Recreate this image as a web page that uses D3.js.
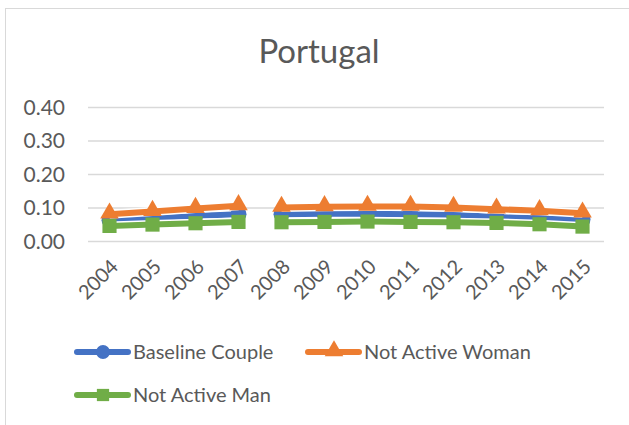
<!DOCTYPE html>
<html>
<head>
<meta charset="utf-8">
<script src="https://cdn.jsdelivr.net/npm/d3@7"></script>
<style>
  html, body { margin: 0; padding: 0; background: #fff; }
  svg { display: block; font-family: Lato, "Open Sans", sans-serif; }
</style>
</head>
<body>
<svg id="chart" width="629" height="425"></svg>
<script>
// Portugal line chart, three household scenarios, 2004-2015.
const years = ["2004", "2005", "2006", "2007", "2008", "2009", "2010", "2011", "2012", "2013", "2014", "2015"];
const baseline = [0.062, 0.068, 0.075, 0.080, 0.080, 0.081, 0.081, 0.080, 0.078, 0.072, 0.067, 0.064];
const notActiveWoman = [0.080, 0.088, 0.097, 0.105, 0.100, 0.102, 0.103, 0.103, 0.100, 0.095, 0.090, 0.083];
const notActiveMan = [0.045, 0.049, 0.053, 0.057, 0.056, 0.057, 0.058, 0.057, 0.056, 0.054, 0.050, 0.043];
const yTicks = [0, 0.1, 0.2, 0.3, 0.4];
// the source line is not joined between these two years
const breakAfter = "2007";

const series = [
  { name: "Baseline Couple", values: baseline, color: "#4472c4", marker: "circle" },
  { name: "Not Active Woman", values: notActiveWoman, color: "#ed7d31", marker: "triangle" },
  { name: "Not Active Man", values: notActiveMan, color: "#70ad47", marker: "square" }
];

const svg = d3.select("#chart");
const M = { left: 88, right: 604, top: 107, bottom: 241 };

// outer chart frame
svg.append("rect")
  .attr("x", 5.5).attr("y", 8.5)
  .attr("width", 640).attr("height", 440)
  .attr("fill", "none").attr("stroke", "#d9d9d9");

svg.append("text")
  .attr("x", 319).attr("y", 63)
  .attr("text-anchor", "middle")
  .attr("font-size", 33)
  .attr("fill", "#595959")
  .text("Portugal");

const x = d3.scaleBand().domain(years).range([M.left, M.right]);
const y = d3.scaleLinear().domain([0, 0.4]).range([M.bottom, M.top]);
const cx = d => x(d) + x.bandwidth() / 2;

// gridlines
svg.append("g")
  .selectAll("line")
  .data(yTicks)
  .join("line")
  .attr("x1", M.left).attr("x2", M.right)
  .attr("y1", d => y(d) + 0.5).attr("y2", d => y(d) + 0.5)
  .attr("stroke", "#d9d9d9").attr("stroke-width", 1.5);

const yAxis = svg.append("g")
  .attr("transform", `translate(${M.left - 23},0)`)
  .call(d3.axisLeft(y).tickValues(yTicks).tickFormat(d3.format(".2f")).tickSize(0));
yAxis.select(".domain").remove();
yAxis.selectAll("text")
  .attr("font-size", 21).attr("fill", "#595959")
  .attr("font-family", "Lato, 'Open Sans', sans-serif")
  .attr("x", 0)
  .attr("dy", "0.35em");

const xAxis = svg.append("g")
  .attr("transform", `translate(0,${M.bottom})`)
  .call(d3.axisBottom(x).tickSize(0));
xAxis.select(".domain").remove();
xAxis.selectAll("text")
  .attr("font-size", 20).attr("fill", "#595959")
  .attr("font-family", "Lato, 'Open Sans', sans-serif")
  .attr("text-anchor", "end")
  .attr("dy", "0.35em")
  .attr("transform", "translate(5,22) rotate(-45)")
  .attr("x", 0).attr("y", 0);

function markerPath(type, size) {
  const sym = { circle: d3.symbolCircle, triangle: d3.symbolTriangle, square: d3.symbolSquare }[type];
  return d3.symbol().type(sym).size(size)();
}

const line = d3.line()
  .x(d => cx(d.year)).y(d => y(d.y));

const breakIdx = years.indexOf(breakAfter);

series.forEach(s => {
  const pts = s.values.map((v, i) => ({ year: years[i], y: v }));
  const parts = [pts.slice(0, breakIdx + 1), pts.slice(breakIdx + 1)];
  const g = svg.append("g");
  parts.forEach(p => {
    g.append("path")
      .attr("d", line(p))
      .attr("fill", "none")
      .attr("stroke", "#fff").attr("stroke-width", 9)
      .attr("stroke-linejoin", "round");
    g.append("path")
      .attr("d", line(p))
      .attr("fill", "none")
      .attr("stroke", s.color).attr("stroke-width", 6)
      .attr("stroke-linejoin", "round");
  });
  g.selectAll("path.mk")
    .data(pts)
    .join("path")
    .attr("class", "mk")
    .attr("transform", d => `translate(${cx(d.year)},${y(d.y) + (s.marker === "triangle" ? -1 : 0)})`)
    .attr("d", markerPath(s.marker, s.marker === "triangle" ? 150 : 200))
    .attr("fill", s.color);
});

// legend
const legendPos = [
  { x: 77, y: 352 },
  { x: 308, y: 352 },
  { x: 77, y: 395 }
];
series.forEach((s, i) => {
  const p = legendPos[i];
  const g = svg.append("g").attr("transform", `translate(${p.x},${p.y})`);
  g.append("line")
    .attr("x1", 0).attr("x2", 51)
    .attr("stroke", s.color).attr("stroke-width", 6).attr("stroke-linecap", "round");
  g.append("path")
    .attr("transform", `translate(26,${s.marker === "triangle" ? -1 : 0})`)
    .attr("d", markerPath(s.marker, 150))
    .attr("fill", s.color);
  g.append("text")
    .attr("x", 56).attr("y", 0).attr("dy", "0.35em")
    .attr("font-size", 20).attr("fill", "#595959")
    .text(s.name);
});
</script>
</body>
</html>
